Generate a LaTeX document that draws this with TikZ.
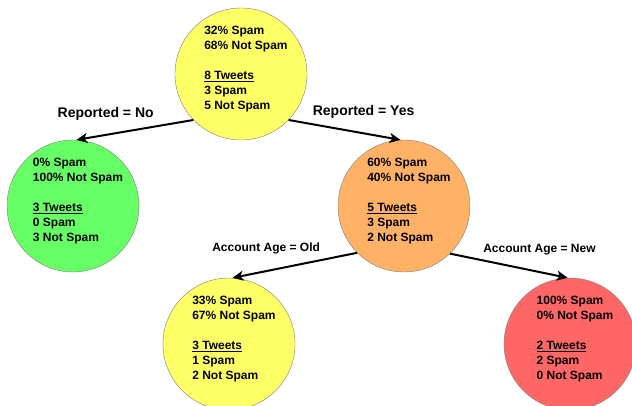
\documentclass[tikz,border=0pt]{standalone}
\usepackage{fontspec}
\setmainfont{Liberation Sans}
\usetikzlibrary{positioning,arrows.meta}
\definecolor{leafyellow}{RGB}{255,255,102}
\definecolor{leafgreen}{RGB}{102,255,102}
\definecolor{splitorange}{RGB}{255,178,102}
\definecolor{leafred}{RGB}{255,102,102}
\newcommand{\leafstats}[5]{%
    \makebox[0pt]{\begin{tabular}{@{\hspace{10pt}}l@{}}
        #1\% Spam\\ #2\% Not Spam\\[15pt]
        \underline{#3 Tweets}\\ #4 Spam\\ #5 Not Spam\\[10pt]
    \end{tabular}}}
\tikzset{
    tree node/.style = {
        draw = gray,
        thin,
        circle,
        minimum size = 132pt,
        inner sep = 0pt,
        font = \fontsize{12}{15}\selectfont\bfseries,
        },
    split edge/.style = {
        draw = black,
        line width = 2pt,
        -{Stealth[length=11pt,width=10pt,inset=3pt]},
        },
    test/.style = {
        inner sep = 0pt,
        font = \fontsize{14}{16}\selectfont\bfseries,
        },
    test small/.style = {
        inner sep = 0pt,
        font = \fontsize{12}{14}\selectfont\bfseries,
        },
}

\begin{document}
\begin{tikzpicture}
            \useasboundingbox (-241pt,74pt) rectangle (391pt,-332pt);

            \node[tree node, fill=leafyellow] (root) {\leafstats{32}{68}{8}{3}{5}};
            \node[tree node, fill=leafgreen, on grid, below left=132pt and 168pt of root] (no) {\leafstats{0}{100}{3}{0}{3}};
            \node[tree node, fill=splitorange, on grid, below right=132pt and 163pt of root] (yes) {\leafstats{60}{40}{5}{3}{2}};
            \node[tree node, fill=leafyellow, on grid, below left=138pt and 175pt of yes] (old) {\leafstats{33}{67}{3}{1}{2}};
            \node[tree node, fill=leafred, on grid, below right=138pt and 166pt of yes] (new) {\leafstats{100}{0}{2}{2}{0}};

            \path (root.224) edge[split edge] node[test, pos=0.75, above=14pt] {Reported = No} (no.87);
            \path (root.316) edge[split edge] node[test, pos=0.67, above=14pt] {Reported = Yes} (yes.93);
            \path (yes.225) edge[split edge] node[test small, pos=0.73, above=16pt] {Account Age = Old} (old.87);
            \path (yes.314) edge[split edge] node[test small, pos=0.76, above=16pt] {Account Age = New} (new.92);
        \end{tikzpicture}
\end{document}
